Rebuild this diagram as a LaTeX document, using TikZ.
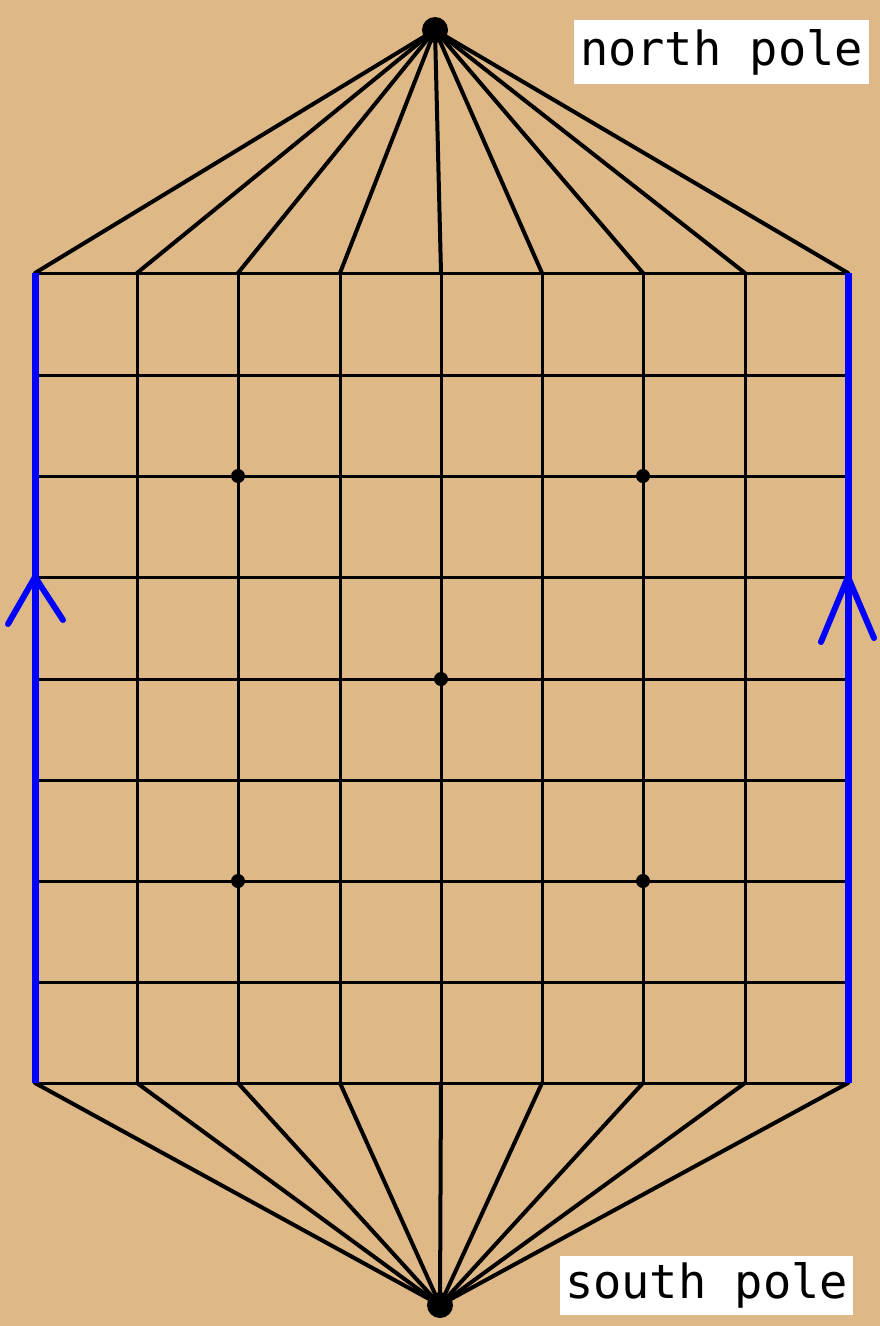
\documentclass[tikz,border=0pt]{standalone}
\usepackage{fontspec}
\setmonofont{DejaVu Sans Mono}
\definecolor{bg}{RGB}{222,184,135}
\definecolor{myblue}{RGB}{0,0,255}
\begin{document}
\begin{tikzpicture}[x=1pt,y=-1pt,
  gridline/.style={line width=3pt,black},
  poleline/.style={line width=4pt,black},
  seam/.style={line width=7pt,myblue},
  seamarrow/.style={line width=6pt,myblue,line cap=round,line join=round},
  label/.style={fill=white,inner sep=3pt,font=\ttfamily\fontsize{47}{50}\selectfont,text=black}]
\fill[bg] (0,0) rectangle (880,1326);
\useasboundingbox (0,0) rectangle (880,1326);
% grid coordinates
\foreach \i/\x in {0/35,1/137,2/238,3/340,4/441,5/542,6/643,7/745,8/848}{
  \coordinate (t\i) at (\x,273);
  \coordinate (b\i) at (\x,1083);
}
\foreach \j/\y in {0/273,1/375,2/476,3/577,4/679,5/780,6/881,7/982,8/1083}{
  \coordinate (l\j) at (35,\y);
  \coordinate (r\j) at (848,\y);
}
\coordinate (N) at (435,30);
\coordinate (S) at (440,1305);
% grid
\foreach \j in {0,...,8}{\draw[gridline] (l\j) -- (r\j);}
\foreach \i in {1,...,7}{\draw[gridline] (t\i) -- (b\i);}
% pole lines
\foreach \i in {0,...,8}{
  \draw[poleline,line cap=round] (N) -- (t\i);
  \draw[poleline,line cap=round] (S) -- (b\i);
}
\fill (N) circle (13);
\fill (S) circle (13);
% dots
\foreach \p in {(238,476),(643,476),(441,679),(238,881),(643,881)}{\fill \p circle (7);}
% seams
\draw[seam] (t0) -- (b0);
\draw[seam] (t8) -- (b8);
\coordinate (la1) at (8,624);
\coordinate (la2) at (63,620);
\coordinate (ra1) at (821,642);
\coordinate (ra2) at (874,638);
\draw[seamarrow] (la1) -- (l3) -- (la2);
\draw[seamarrow] (ra1) -- (r3) -- (ra2);
% labels
\node[label,minimum width=295pt,minimum height=64pt] (np) at (721.5,52) {north pole};
\node[label,minimum width=293pt,minimum height=59pt] (sp) at (706.5,1285.5) {south pole};
\end{tikzpicture}
\end{document}
